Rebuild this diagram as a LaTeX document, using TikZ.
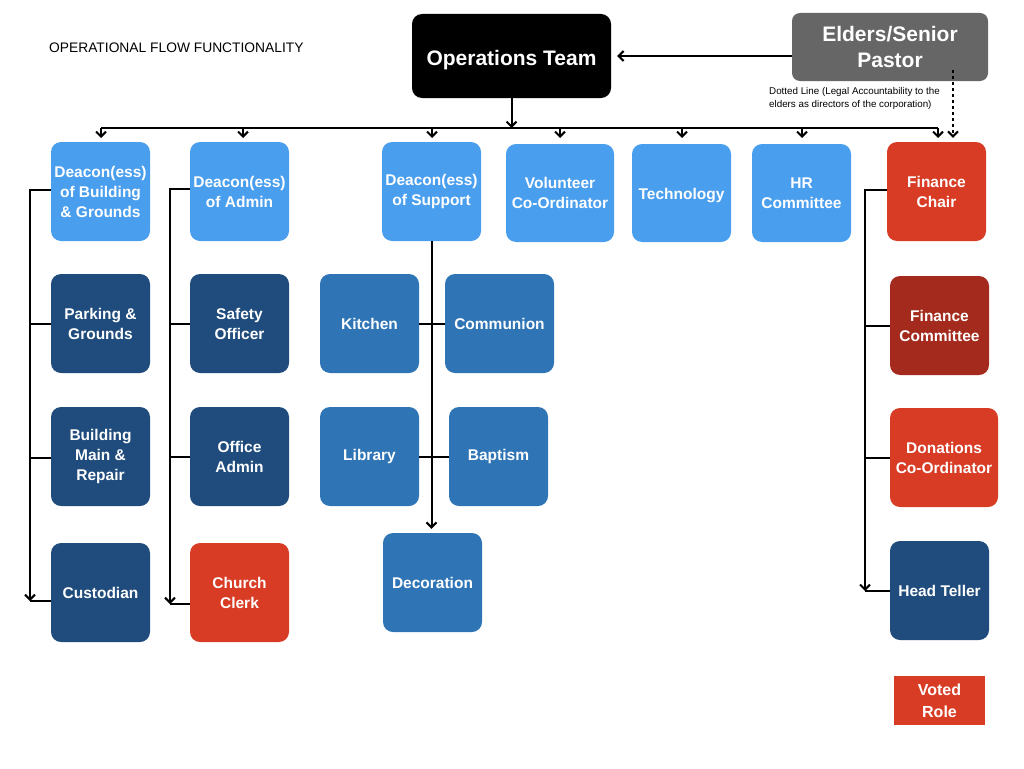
\documentclass[tikz,border=0pt]{standalone}
\usepackage{fontspec}
\setmainfont{Liberation Sans}
\usetikzlibrary{arrows.meta}
\definecolor{lblue}{RGB}{74,158,238}
\definecolor{mblue}{RGB}{47,117,182}
\definecolor{dblue}{RGB}{31,76,124}
\definecolor{vred}{RGB}{216,60,37}
\definecolor{dred}{RGB}{163,42,28}
\definecolor{egray}{RGB}{102,102,102}
\tikzset{
  box/.style={rounded corners=10pt, minimum width=99pt, minimum height=99pt, inner sep=2pt,
    text=white, align=center, font=\fontsize{15.5}{20}\selectfont\bfseries},
  light/.style={box, fill=lblue},
  mid/.style={box, fill=mblue},
  dark/.style={box, fill=dblue},
  redb/.style={box, fill=vred},
  dredb/.style={box, fill=dred},
  conn/.style={line width=2pt, black},
  arr/.style={conn, -{Straight Barb[length=5pt,width=10pt,line width=2pt]}},
}
\begin{document}
\begin{tikzpicture}[x=1pt,y=-1pt]
\useasboundingbox (0,0) rectangle (1024,768);
\fill[white] (0,0) rectangle (1024,768);

\node[anchor=west, inner sep=0pt, font=\fontsize{13.8}{16}\selectfont] (title) at (49,48) {OPERATIONAL FLOW FUNCTIONALITY};

\node[box, fill=black, minimum width=199pt, minimum height=84pt, font=\fontsize{21}{26}\selectfont\bfseries] (ops) at (511.5,56) {\raisebox{-4pt}[\height][\depth]{Operations Team}};
\node[box, fill=egray, minimum width=196pt, minimum height=68pt, rounded corners=8pt, font=\fontsize{21}{26}\selectfont\bfseries] (eld) at (890,47) {Elders/Senior\\Pastor};
\node[anchor=north west, align=left, inner sep=0pt, font=\fontsize{9.8}{13}\selectfont] (dlab) at (769,87) {Dotted Line (Legal Accountability to the\\elders as directors of the corporation)};

% top row
\node[light] (dbg) at (100.5,191.5) {Deacon(ess)\\of Building\\\& Grounds};
\node[light] (dad) at (239.5,191.5) {Deacon(ess)\\of Admin};
\node[light] (dsu) at (431.5,191.5) {Deacon(ess)\\of Support};
\node[light, minimum width=108pt, minimum height=98pt] (vol) at (560,193) {Volunteer\\Co-Ordinator};
\node[light, minimum height=98pt] (tec) at (681.5,193) {\raisebox{-3pt}[\height][\depth]{Technology}};
\node[light, minimum height=98pt] (hrc) at (801.5,193) {HR\\Committee};
\node[redb] (fch) at (936.5,191.5) {Finance\\Chair};

% column 1
\node[dark] (pkg) at (100.5,323.5) {Parking \&\\Grounds};
\node[dark] (bmr) at (100.5,456.5) {Building\\Main \&\\Repair};
\node[dark] (cus) at (100.5,592.5) {Custodian};
% column 2
\node[dark] (saf) at (239.5,323.5) {Safety\\Officer};
\node[dark] (ofa) at (239.5,456.5) {Office\\Admin};
\node[redb] (clk) at (239.5,592.5) {Church\\Clerk};
% support
\node[mid] (kit) at (369.5,323.5) {Kitchen};
\node[mid, minimum width=109pt] (com) at (499.5,323.5) {Communion};
\node[mid] (lib) at (369.5,456.5) {Library};
\node[mid] (bap) at (498.5,456.5) {Baptism};
\node[mid] (dec) at (432.5,582.5) {Decoration};
% finance
\node[dredb] (fcm) at (939.5,325.5) {Finance\\Committee};
\node[redb, minimum width=108pt] (don) at (944,457.5) {Donations\\Co-Ordinator};
\node[dark] (htl) at (939.5,590.5) {Head Teller};
\node[fill=vred, minimum width=91pt, minimum height=49pt, inner sep=0pt, text=white, align=center, font=\fontsize{16}{22}\selectfont\bfseries] (vot) at (939.5,700.5) {Voted\\Role};

% top connectors
\draw[arr, shorten >=6pt] (eld.west |- ops.east) -- (ops.east);
\coordinate (busL) at (101,128);
\coordinate (busR) at (938,128);
\draw[arr] (ops.south) -- (ops.south |- busL);
\draw[conn] (busL) -- (busR);
\foreach \n/\x in {dbg/101,dad/243,dsu/432,vol/560,tec/682,hrc/802,fch/938}{
  \draw[arr, shorten >=4pt] (\x,128) -- (\x,142);
}
\coordinate (dotS) at (953,70);
\draw[arr, dash pattern=on 3pt off 3pt, shorten >=4pt] (dotS) -- (dotS |- fch.north);

% column 1 connectors
\coordinate (c1) at (30,601);
\draw[arr] ([yshift=1.5pt]dbg.west) -| (c1);
\draw[conn] (cus.west |- c1) -- (c1);
\draw[conn] (pkg.west) -- (pkg.west -| c1);
\draw[conn] ([yshift=-1.5pt]bmr.west) -- ([yshift=-1.5pt]bmr.west -| c1);
% column 2
\coordinate (c2) at (170,604);
\draw[arr] ([yshift=3pt]dad.west) -| (c2);
\draw[conn] (clk.west |- c2) -- (c2);
\draw[conn] (saf.west) -- (saf.west -| c2);
\draw[conn] (ofa.west) -- (ofa.west -| c2);
% support
\draw[arr, shorten >=4pt] (dsu.south) -- (dsu.south |- dec.north);
\draw[conn] (kit.east) -- (com.west);
\draw[conn] (lib.east) -- (bap.west);
% finance
\coordinate (c4) at (865,591);
\draw[arr] ([yshift=1.5pt]fch.west) -| (c4);
\draw[conn] (htl.west |- c4) -- (c4);
\draw[conn] (fcm.west) -- (fcm.west -| c4);
\draw[conn] (don.west) -- (don.west -| c4);
\end{tikzpicture}
\end{document}
